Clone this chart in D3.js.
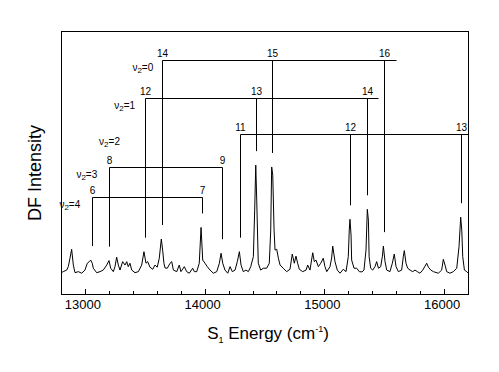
<!DOCTYPE html>
<html><head><meta charset="utf-8">
<script src="https://cdn.jsdelivr.net/npm/d3@7"></script>
<style>body{margin:0;background:#fff}svg{display:block}text{font-family:Arial,"Liberation Sans",sans-serif;fill:#000}</style>
</head><body><svg id="c" width="499" height="372"></svg>
<script>
// spectrum (S1 energy in cm-1, DF intensity in arbitrary units)
const energy = [12800,12819,12848,12861,12875,12889,12903,12917,12945,12973,13000,13020,13036,13048,13061,13070,13098,13126,13153,13182,13201,13215,13237,13251,13265,13279,13293,13315,13335,13349,13362,13376,13391,13418,13446,13474,13493,13510,13524,13543,13566,13585,13604,13621,13638,13649,13660,13669,13688,13711,13725,13739,13767,13788,13802,13830,13850,13872,13900,13914,13934,13955,13970,13984,14003,14022,14045,14073,14101,14123,14137,14151,14170,14193,14212,14231,14254,14273,14290,14304,14323,14345,14365,14385,14407,14418,14427,14435,14448,14468,14490,14518,14540,14552,14560,14569,14580,14588,14602,14616,14630,14657,14685,14713,14732,14749,14763,14777,14791,14819,14847,14861,14880,14903,14916,14930,14950,14970,14991,15005,15020,15047,15061,15070,15089,15108,15131,15158,15181,15200,15208,15214,15223,15228,15248,15270,15292,15315,15331,15348,15359,15368,15374,15387,15404,15423,15437,15452,15471,15485,15493,15507,15521,15548,15568,15584,15599,15618,15646,15660,15668,15682,15696,15716,15738,15757,15777,15799,15822,15841,15855,15869,15889,15911,15952,15980,15994,16008,16022,16050,16077,16106,16125,16139,16148,16156,16170,16190,16200];
const intensity = [8.1,8.5,9.1,10.4,13.6,17.0,11.0,8.1,8.5,7.9,9.1,11.7,12.3,12.9,11.7,9.8,8.1,8.5,9.1,11.0,12.7,9.8,8.5,10.4,14.0,11.0,9.1,12.3,11.0,12.3,10.4,11.7,9.1,8.1,8.5,11.0,16.1,11.7,12.3,10.2,9.4,11.0,10.2,13.6,20.9,16.7,11.7,9.9,9.8,11.7,12.3,9.1,8.5,11.0,8.5,10.4,8.5,7.9,9.8,8.5,8.5,11.7,25.3,12.9,11.7,10.4,9.1,7.9,8.5,11.7,15.5,11.7,9.1,7.9,10.4,8.5,9.1,12.3,16.1,11.0,8.5,9.1,8.5,10.4,14.2,31.9,49.0,35.7,11.7,9.1,9.8,9.8,11.7,24.3,48.3,45.2,24.3,16.7,17.0,13.6,11.0,9.8,8.5,9.4,15.2,11.7,14.4,11.7,9.4,8.5,9.1,11.0,9.1,15.7,12.3,12.9,10.4,11.7,13.6,10.4,8.5,10.4,13.7,18.2,12.3,9.1,7.9,9.4,8.5,14.2,24.3,28.4,22.4,12.9,9.8,9.8,8.5,8.4,9.1,16.7,32.2,28.1,14.2,9.8,9.1,10.4,12.3,9.8,10.4,14.4,18.2,12.3,9.1,8.5,11.7,15.2,10.4,8.5,9.1,14.4,16.5,11.7,9.8,9.1,8.5,9.1,8.5,7.9,9.1,10.6,11.7,10.2,9.1,8.5,7.9,9.1,13.2,11.0,8.5,7.9,8.5,9.8,18.0,29.2,24.3,14.2,9.1,8.5,8.0];
// vibrational progressions (nu2 = 0..4)
const progLabels = ["0","1","2","3","4"];
const progLevels = [88.9,74.4,60.7,48.2,36.9];
const progEnergies = [[13646,14565,15496],[13502,14427,15359],[14295,15214,16144],[13203,14142],[13061,13975]];
const progNumbers = [["14","15","16"],["12","13","14"],["11","12","13"],["8","9"],["6","7"]];
const progEnds = [15600,15450,16200,14142,13975];
const xTicks = [13000,14000,15000,16000];

const svg = d3.select("#c");
const L=61,R=468,T=31,B=294;
const x = d3.scaleLinear().domain([12800,16200]).range([L,R]);
const y = d3.scaleLinear().domain([0,100]).range([B,T]);

// bottom axis ticks inside
const minor = d3.range(12800,16201,200).filter(v=>!xTicks.includes(v));
const gx = svg.append("g").attr("transform",`translate(0,${B})`);
gx.selectAll("line.mj").data(xTicks).join("line").attr("x1",d=>Math.round(x(d))+0.5).attr("x2",d=>Math.round(x(d))+0.5).attr("y1",0).attr("y2",-5).attr("stroke","#000");
gx.selectAll("line.mn").data(minor).join("line").attr("x1",d=>Math.round(x(d))+0.5).attr("x2",d=>Math.round(x(d))+0.5).attr("y1",0).attr("y2",-3).attr("stroke","#000");
gx.selectAll("text").data(xTicks).join("text").attr("x",d=>x(d)-2).attr("y",15).attr("text-anchor","middle").style("font-size","13px").text(d=>d);

// spectrum
const pts = energy.map((e,i)=>[e,intensity[i]]);
svg.append("path").datum(pts).attr("fill","none").attr("stroke","#000").attr("stroke-width",1)
  .attr("d",d3.line().x(d=>x(d[0])).y(d=>y(d[1])));

// progressions
const labelDx=[-9,-10,-120,-12,-12];
function localMax(e){let m=0;energy.forEach((v,i)=>{if(Math.abs(v-e)<=15&&intensity[i]>m)m=intensity[i];});return m;}
progLabels.forEach((lab,k)=>{
  const yl=Math.round(y(progLevels[k]))+0.5;
  const es=progEnergies[k];
  const g=svg.append("g");
  g.append("line").attr("x1",Math.round(x(es[0]))+0.5).attr("x2",Math.min(R,Math.round(x(progEnds[k]))+0.5)).attr("y1",yl).attr("y2",yl).attr("stroke","#000");
  es.forEach((e,j)=>{
    const xe=Math.round(x(e))+0.5;
    g.append("line").attr("x1",xe).attr("x2",xe).attr("y1",yl).attr("y2",y(localMax(e))-14).attr("stroke","#000");
    g.append("text").attr("x",xe).attr("y",yl-4).attr("text-anchor","middle").style("font-size","10px").text(progNumbers[k][j]);
  });
  const t=g.append("text").attr("x",x(es[0])+labelDx[k]).attr("y",yl+10).attr("text-anchor","end").style("font-size","10px");
  t.append("tspan").text("ν");
  t.append("tspan").attr("dy",2).style("font-size","8px").text("2");
  t.append("tspan").attr("dy",-2).text("="+lab);
});

// frame
svg.append("rect").attr("x",L+0.5).attr("y",T+0.5).attr("width",R-L).attr("height",B-T).attr("fill","none").attr("stroke","#000");

// axis titles
const xt=svg.append("text").attr("x",268).attr("y",339).attr("text-anchor","middle").style("font-size","17px");
xt.append("tspan").text("S");
xt.append("tspan").attr("dy",4).style("font-size","9px").text("1");
xt.append("tspan").attr("dy",-4).text(" Energy (cm");
xt.append("tspan").attr("dy",-7).style("font-size","9px").text("-1");
xt.append("tspan").attr("dy",7).text(")");
svg.append("text").attr("transform","translate(41,173) rotate(-90)").attr("text-anchor","middle").style("font-size","18px").text("DF Intensity");
</script></body></html>
